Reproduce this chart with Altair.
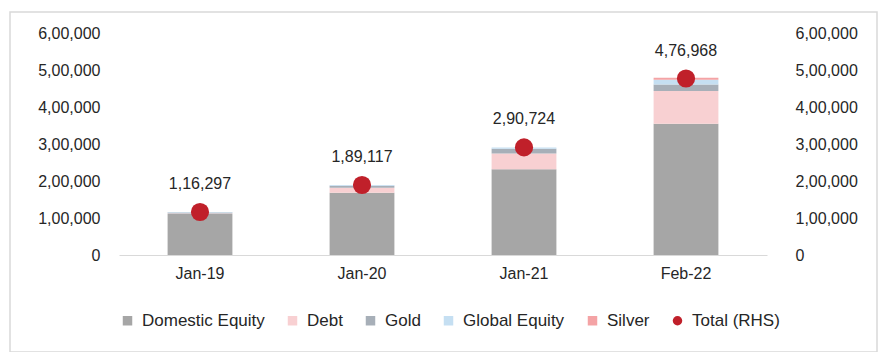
import altair as alt
import pandas as pd

periods = ["Jan-19", "Jan-20", "Jan-21", "Feb-22"]
assets = ["Domestic Equity", "Debt", "Gold", "Global Equity", "Silver"]
colors = ["#A6A6A6", "#F8D0D2", "#A7AFB8", "#C5DFF2", "#F4A3A5"]
total_name = "Total (RHS)"
total_color = "#C0202A"

domestic_equity = [110500, 168000, 232000, 355000]
debt = [2000, 14000, 42000, 88000]
gold = [2300, 5000, 13000, 18000]
global_equity = [1497, 2117, 3724, 12968]
silver = [0, 0, 0, 5000]
totals = [116297, 189117, 290724, 476968]
y_ticks = [0, 100000, 200000, 300000, 400000, 500000, 600000]


def indian(n):
    s = str(int(n))
    if len(s) <= 3:
        return s
    head, tail = s[:-3], s[-3:]
    parts = []
    while len(head) > 2:
        parts.insert(0, head[-2:])
        head = head[:-2]
    if head:
        parts.insert(0, head)
    return ",".join(parts) + "," + tail


series = [domestic_equity, debt, gold, global_equity, silver]
rows = []
for ai, (a, vals) in enumerate(zip(assets, series)):
    for p, v in zip(periods, vals):
        rows.append({"Period": p, "Asset": a, "Value": v, "Order": ai})
bars_df = pd.DataFrame(rows)
tot_df = pd.DataFrame({"Period": periods, "Total": totals, "Asset": [total_name] * 4,
                       "Label": [indian(t) for t in totals]})

FONT = "Liberation Sans"
label_expr = "datum.value == 0 ? '0' : format(datum.value/100000, 'd') + ',00,000'"

x_enc = alt.X("Period:N", sort=periods, title=None,
              scale=alt.Scale(paddingInner=0.6, paddingOuter=0.3),
              axis=alt.Axis(labelAngle=0, labelFont=FONT, labelFontSize=16,
                            labelColor="#262626", domainColor="#D9D9D9",
                            ticks=False, labelPadding=10))

ydom = alt.Scale(domain=[0, 600000], nice=False)

all_names = assets + [total_name]
color_scale = alt.Scale(domain=all_names, range=colors + [total_color])
shape_scale = alt.Scale(domain=all_names, range=["square"] * 5 + ["circle"])
legend = alt.Legend(
    orient="bottom", direction="horizontal", title=None,
    labelFont=FONT, labelFontSize=17, labelColor="#262626",
    symbolSize=90, columnPadding=19, symbolStrokeWidth=0, offset=31,
    labelLimit=200, labelOffset=6, symbolOpacity=1,
)

bars = alt.Chart(bars_df).mark_bar().encode(
    x=x_enc,
    y=alt.Y("sum(Value):Q", scale=ydom, title=None, stack="zero",
            axis=alt.Axis(values=y_ticks, labelExpr=label_expr, grid=False,
                          domain=False, ticks=False, labelFont=FONT,
                          labelFontSize=16, labelColor="#262626", labelPadding=19)),
    color=alt.Color("Asset:N", scale=color_scale, legend=legend, title=None),
    order=alt.Order("Order:Q"),
)

right_axis = alt.Axis(orient="right", values=y_ticks, labelExpr=label_expr,
                      grid=False, domain=False, ticks=False, labelFont=FONT,
                      labelFontSize=16, labelColor="#262626", labelPadding=28,
                      labelAlign="left")

points = alt.Chart(tot_df).mark_point(size=330, opacity=1, filled=True).encode(
    x=alt.X("Period:N", sort=periods),
    y=alt.Y("Total:Q", scale=ydom, title=None, axis=right_axis),
    color=alt.Color("Asset:N", scale=color_scale, legend=legend, title=None),
    shape=alt.Shape("Asset:N", scale=shape_scale, legend=legend, title=None),
)

texts = alt.Chart(tot_df).mark_text(dy=-28, font=FONT, fontSize=16, color="#262626").encode(
    x=alt.X("Period:N", sort=periods),
    y=alt.Y("Total:Q", scale=ydom, title=None, axis=right_axis),
    text="Label:N",
)

frame = alt.Chart(pd.DataFrame({"a": [0]})).mark_rect(
    filled=False, stroke="#D9D9D9", strokeWidth=1.5, clip=False
).encode(x=alt.value(-109), x2=alt.value(758), y=alt.value(-21), y2=alt.value(319))

right = alt.layer(points, texts)
chart = alt.layer(frame, bars, right).resolve_scale(y="independent").properties(
    width=648, height=222,
    autosize=alt.AutoSizeParams(type="none"),
    padding={"left": 111, "top": 25, "right": 112, "bottom": 97},
).configure_view(stroke=None)

chart.save("out.html", embed_options={"renderer": "svg", "actions": False})
